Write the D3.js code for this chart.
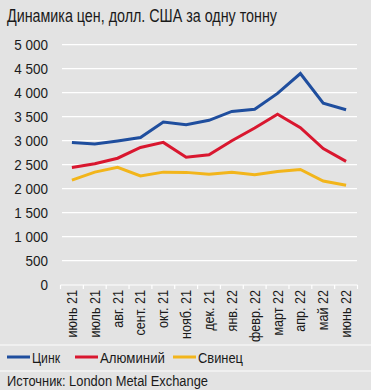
<!DOCTYPE html>
<html>
<head>
<meta charset="utf-8">
<script src="https://cdn.jsdelivr.net/npm/d3@7"></script>
<style>
  body { margin: 0; background: #e3e3e3; }
  svg { display: block; }
  text { font-family: "Liberation Sans Narrow", "Arial Narrow", "Liberation Sans", sans-serif; fill: #1a1a1a; }
</style>
</head>
<body>
<div id="chart"></div>
<script>
// Динамика цен, долл. США за одну тонну (London Metal Exchange)

var months = ["июнь 21", "июль 21", "авг. 21", "сент. 21", "окт. 21", "нояб. 21", "дек. 21",
  "янв. 22", "февр. 22", "март 22", "апр. 22", "май 22", "июнь 22"];

var zinc = [2960, 2930, 2995, 3065, 3390, 3335, 3425, 3610, 3655, 3985, 4400, 3780, 3645];
var aluminium = [2440, 2520, 2635, 2860, 2965, 2655, 2705, 3000, 3265, 3550, 3270, 2835, 2570];
var lead = [2180, 2345, 2445, 2265, 2345, 2340, 2300, 2340, 2290, 2360, 2400, 2160, 2070];

var yTicks = [0, 500, 1000, 1500, 2000, 2500, 3000, 3500, 4000, 4500, 5000];

var series = [
  { name: "Цинк", values: zinc, color: "#1f4e9e" },
  { name: "Алюминий", values: aluminium, color: "#d9172f" },
  { name: "Свинец", values: lead, color: "#f2b51b" }
];

var W = 371, H = 390;

var svg = d3.select("#chart").append("svg")
  .attr("width", W)
  .attr("height", H);

svg.append("rect").attr("width", W).attr("height", H).attr("fill", "#e3e3e3");

// narrow look: squeeze text horizontally
svg.append("text")
  .attr("x", 7)
  .attr("y", 22)
  .attr("textLength", 270)
  .attr("lengthAdjust", "spacingAndGlyphs")
  .style("font-size", "17.5px")
  .text("Динамика цен, долл. США за одну тонну");

var x = d3.scaleBand().domain(months).range([60.5, 357.5]);
var y = d3.scaleLinear().domain([0, 5000]).range([284.7, 44.7]);

var fmt = function (d) { return d3.format(",")(d).replace(/,/g, " "); };

// gridlines
svg.append("g")
  .selectAll("line")
  .data(yTicks.filter(function (d) { return d > 0; }))
  .enter().append("line")
  .attr("x1", 62).attr("x2", 357)
  .attr("y1", function (d) { return y(d); })
  .attr("y2", function (d) { return y(d); })
  .attr("stroke", "#ffffff")
  .attr("stroke-width", 1.2);

// y labels
svg.append("g")
  .selectAll("text")
  .data(yTicks)
  .enter().append("text")
  .attr("transform", function (d) { return "translate(48," + (y(d) + 5) + ") scale(0.9,1)"; })
  .attr("text-anchor", "end")
  .style("font-size", "15px")
  .text(fmt);

// x axis line with boundary ticks
var xAxis = svg.append("g");
xAxis.append("line")
  .attr("x1", x.range()[0]).attr("x2", x.range()[1])
  .attr("y1", 285).attr("y2", 285)
  .attr("stroke", "#ffffff").attr("stroke-width", 1.2);
xAxis.selectAll(".tick")
  .data(months.concat(["end"]))
  .enter().append("line")
  .attr("class", "tick")
  .attr("x1", function (d, i) { return x.range()[0] + i * x.bandwidth(); })
  .attr("x2", function (d, i) { return x.range()[0] + i * x.bandwidth(); })
  .attr("y1", 285).attr("y2", 289)
  .attr("stroke", "#ffffff").attr("stroke-width", 1.2);

xAxis.selectAll(".lbl")
  .data(months)
  .enter().append("text")
  .attr("class", "lbl")
  .attr("transform", function (d) {
    return "translate(" + (x(d) + x.bandwidth() / 2 + 5) + ",290) rotate(-90) scale(0.9,1)";
  })
  .attr("text-anchor", "end")
  .style("font-size", "14px")
  .text(function (d) { return d; });

// lines
var line = d3.line()
  .x(function (d, i) { return x(months[i]) + x.bandwidth() / 2; })
  .y(function (d) { return y(d); });

svg.append("g")
  .selectAll("path")
  .data(series)
  .enter().append("path")
  .attr("d", function (s) { return line(s.values); })
  .attr("fill", "none")
  .attr("stroke", function (s) { return s.color; })
  .attr("stroke-width", 3)
  .attr("stroke-linejoin", "miter");

// separators
[345, 371].forEach(function (yy) {
  svg.append("line")
    .attr("x1", 0).attr("x2", W)
    .attr("y1", yy).attr("y2", yy)
    .attr("stroke", "#f4f4f4").attr("stroke-width", 1.5);
});

// legend
var legendX = [7, 75, 173];
var legendLen = [28, 65, 45];
var leg = svg.append("g").selectAll("g")
  .data(series)
  .enter().append("g")
  .attr("transform", function (s, i) { return "translate(" + legendX[i] + ",357)"; });
leg.append("line")
  .attr("x1", 0).attr("x2", 23)
  .attr("stroke", function (s) { return s.color; })
  .attr("stroke-width", 3);
leg.append("text")
  .attr("x", 25)
  .attr("y", 5.5)
  .attr("textLength", function (s, i) { return legendLen[i]; })
  .attr("lengthAdjust", "spacingAndGlyphs")
  .style("font-size", "15.5px")
  .text(function (s) { return s.name; });

svg.append("text")
  .attr("x", 7)
  .attr("y", 385.5)
  .attr("textLength", 201)
  .attr("lengthAdjust", "spacingAndGlyphs")
  .style("font-size", "15.5px")
  .text("Источник: London Metal Exchange");
</script>
</body>
</html>
